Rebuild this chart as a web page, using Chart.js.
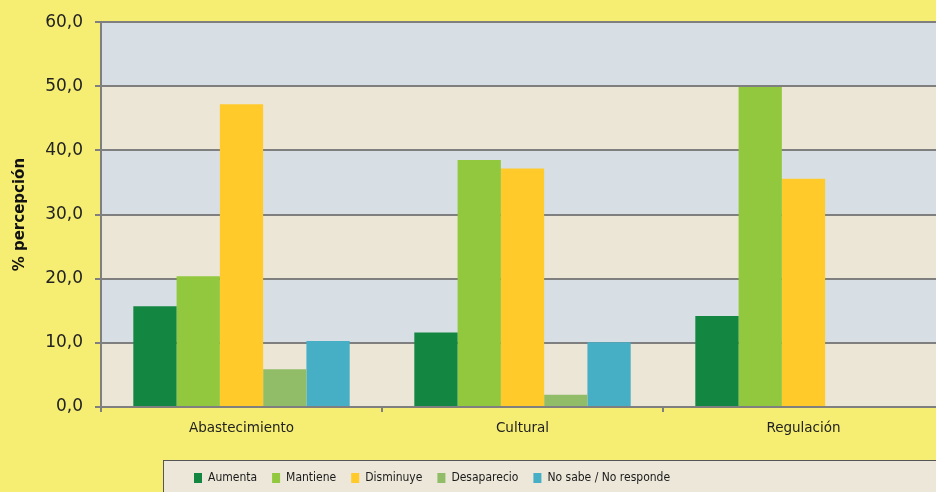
<!DOCTYPE html>
<html>
<head>
<meta charset="utf-8">
<script src="https://cdn.jsdelivr.net/npm/chart.js@4.4.1/dist/chart.umd.min.js"></script>
<style>
  html, body { margin: 0; padding: 0; background: #F5EE72; overflow: hidden; }
  #wrap { width: 946px; height: 515px; }
</style>
</head>
<body>
<div id="wrap"><canvas id="chart" width="946" height="515"></canvas></div>
<script>
// data (% percepcion per service type)
var categories = ["Abastecimiento", "Cultural", "Regulación"];
var aumenta = [15.7, 11.6, 14.2];
var mantiene = [20.4, 38.5, 49.9];
var disminuye = [47.2, 37.2, 35.6];
var desaparecio = [5.9, 1.9, 0];
var noSabe = [10.3, 10.1, 0];

var seriesNames = ["Aumenta", "Mantiene", "Disminuye", "Desaparecio", "No sabe / No responde"];
var seriesColors = ["#138741", "#92C83E", "#FFCA2A", "#92BD68", "#46AFC6"];

var yMin = 0, yMax = 60, yStep = 10;

// colours for the page and plot
var pageYellow = "#F5EE72";
var bandBeige = "#ECE6D7";
var bandBlue = "#D7DFE5";
var gridGray = "#7F7F7F";

// layout of plot bottom and legend frame
var plotBottom = 407;
var legendBoxLeft = 163;
var legendBoxTop = 460;
var legendTextY = 478;
var legendPad = 15;
var legendFontSize = 12;

// paints yellow page, banded plot area and the legend frame
var backgroundPlugin = {
  id: "background",
  afterLayout: function (chart) {
    // legend sits inside its own frame, like the original
    chart.legend.left = legendBoxLeft + 16;
    chart.legend.top = legendTextY - legendPad - legendFontSize / 2;
  },
  beforeDraw: function (chart) {
    var ctx = chart.ctx;
    var area = chart.chartArea;
    var y = chart.scales.y;
    ctx.save();
    ctx.fillStyle = pageYellow;
    ctx.fillRect(0, 0, chart.width, chart.height);

    for (var i = 0; i < y.ticks.length - 1; i++) {
      var bottom = y.getPixelForValue(y.ticks[i].value);
      var top = y.getPixelForValue(y.ticks[i + 1].value);
      ctx.fillStyle = (i % 2 === 0) ? bandBeige : bandBlue;
      ctx.fillRect(area.left, top, area.right - area.left, bottom - top);
    }

    ctx.fillStyle = "#ECE7D9";
    ctx.fillRect(legendBoxLeft, legendBoxTop, chart.width - legendBoxLeft, chart.height - legendBoxTop);
    ctx.strokeStyle = "#555555";
    ctx.lineWidth = 1;
    ctx.strokeRect(legendBoxLeft + 0.5, legendBoxTop + 0.5, chart.width, chart.height);
    ctx.restore();
  }
};

var seriesValues = [aumenta, mantiene, disminuye, desaparecio, noSabe];
var datasets = seriesNames.map(function (name, i) {
  return {
    label: name,
    data: seriesValues[i],
    backgroundColor: seriesColors[i],
    borderWidth: 0,
    barPercentage: 1.0,
    categoryPercentage: 0.77
  };
});

var ctx_bar = document.getElementById("chart").getContext("2d");
var myBarChart = new Chart(ctx_bar, {
  type: "bar",
  data: { labels: categories, datasets: datasets },
  plugins: [backgroundPlugin],
  options: {
    responsive: false,
    animation: false,
    layout: { padding: { left: 0, right: 2, top: 16, bottom: 0 } },
    plugins: {
      tooltip: { enabled: false },
      legend: {
        position: "bottom",
        align: "start",
        labels: {
          boxWidth: 8,
          boxHeight: 10,
          padding: legendPad,
          color: "#1A1A1A",
          font: { family: "'DejaVu Sans Condensed', sans-serif", size: legendFontSize }
        }
      }
    },
    scales: {
      x: {
        afterFit: function (axis) {
          // push the plot bottom to where the original has it
          axis.height = axis.chart.height - axis.chart.legend.height - plotBottom;
        },
        grid: {
          drawOnChartArea: false,
          drawTicks: true,
          tickLength: 5,
          color: gridGray,
          lineWidth: 2
        },
        border: { color: gridGray, width: 2 },
        ticks: {
          padding: 8,
          color: "#222222",
          font: { family: "'DejaVu Sans', sans-serif", size: 13.5 }
        }
      },
      y: {
        min: yMin,
        max: yMax,
        afterFit: function (axis) { axis.width = 101; },
        grid: {
          color: gridGray,
          lineWidth: 2,
          tickLength: 6
        },
        border: { color: gridGray, width: 2 },
        ticks: {
          stepSize: yStep,
          padding: 12,
          color: "#222222",
          font: { family: "'DejaVu Sans', sans-serif", size: 17 },
          callback: function (v) { return v.toFixed(1).replace(".", ","); }
        },
        title: {
          display: true,
          text: "% percepción",
          color: "#111111",
          padding: { top: 11, bottom: 0 },
          font: { family: "'DejaVu Sans', sans-serif", size: 15, weight: "bold" }
        }
      }
    }
  }
});
</script>
</body>
</html>
